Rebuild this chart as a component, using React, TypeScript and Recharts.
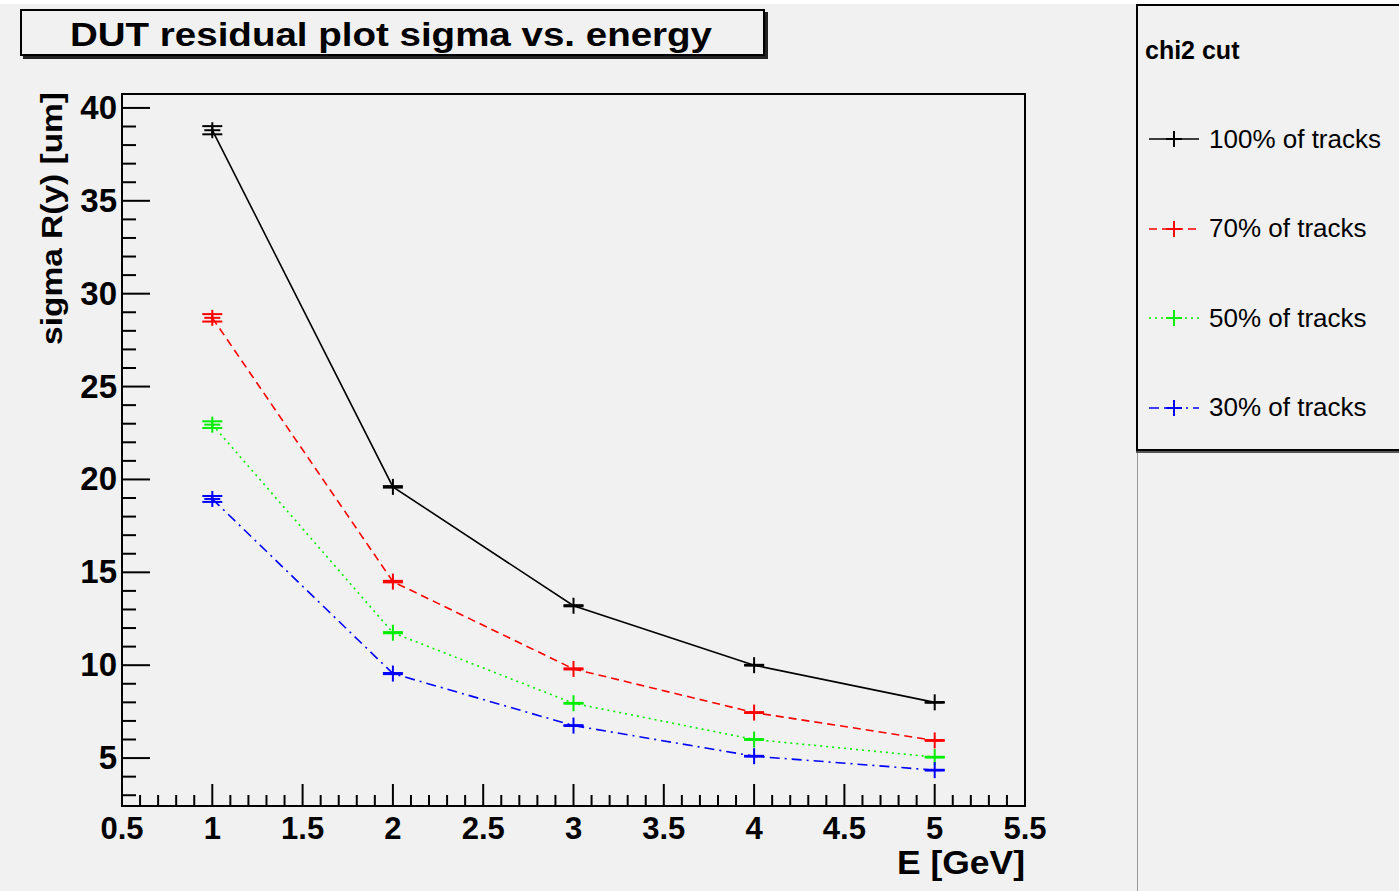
import React from "react";
import { LineChart, Line, XAxis, YAxis, ErrorBar, ReferenceArea } from "recharts";

// energy points [GeV]
const energies = [1, 2, 3, 4, 5];

// sigma of DUT residual [um] for each chi2 cut
const sigma100 = [38.8, 19.6, 13.2, 10.0, 8.0];
const sigma70 = [28.7, 14.5, 9.8, 7.45, 5.95];
const sigma50 = [22.95, 11.75, 7.95, 6.0, 5.05];
const sigma30 = [18.95, 9.55, 6.75, 5.1, 4.35];

// small errors seen as bars on the markers
const err100 = [0.22, 0.04, 0.03, 0.02, 0.02];
const err70 = [0.2, 0.04, 0.03, 0.02, 0.02];
const err50 = [0.18, 0.03, 0.02, 0.02, 0.02];
const err30 = [0.16, 0.03, 0.02, 0.02, 0.02];

const xMajorTicks = [0.5, 1, 1.5, 2, 2.5, 3, 3.5, 4, 4.5, 5, 5.5];
const yMajorTicks = [5, 10, 15, 20, 25, 30, 35, 40];

const xTicks: number[] = [];
for (let i = 5; i <= 55; i++) xTicks.push(i / 10);
const yTicks: number[] = [];
for (let i = 3; i <= 40; i++) yTicks.push(i);

const data = energies.map((e, i) => ({
  e,
  s100: sigma100[i],
  s70: sigma70[i],
  s50: sigma50[i],
  s30: sigma30[i],
  e100: err100[i],
  e70: err70[i],
  e50: err50[i],
  e30: err30[i],
}));

const series = [
  { key: "s100", err: "e100", name: "100% of tracks", color: "#000000", dash: undefined },
  { key: "s70", err: "e70", name: "70% of tracks", color: "#ff0000", dash: "8 5" },
  { key: "s50", err: "e50", name: "50% of tracks", color: "#00ee00", dash: "2 4" },
  { key: "s30", err: "e30", name: "30% of tracks", color: "#0000ff", dash: "10 5 2 5" },
];

const FONT = "'Liberation Sans', Arial, Helvetica, sans-serif";
const BG = "#f1f1f1";

const PlusDot = (color: string) => (props: any) => {
  const { cx, cy } = props;
  if (cx == null || cy == null) return null;
  return (
    <g>
      <line x1={cx - 8} y1={cy} x2={cx + 8} y2={cy} stroke={color} strokeWidth={2} />
      <line x1={cx} y1={cy - 8} x2={cx} y2={cy + 8} stroke={color} strokeWidth={2} />
    </g>
  );
};

const XTick = (props: any) => {
  const { x, y, payload } = props;
  const v = payload.value;
  const major = xMajorTicks.some((m) => Math.abs(m - v) < 1e-6);
  return (
    <g>
      <line x1={x} y1={y} x2={x} y2={y - (major ? 22 : 11)} stroke="#000" strokeWidth={2} />
      {major && (
        <text x={x} y={y + 33} textAnchor="middle" fontSize={31} fontWeight="bold" fontFamily={FONT} fill="#000">
          {v}
        </text>
      )}
    </g>
  );
};

const YTick = (props: any) => {
  const { x, y, payload } = props;
  const v = payload.value;
  const major = yMajorTicks.includes(v);
  return (
    <g>
      <line x1={x} y1={y} x2={x + (major ? 28 : 14)} y2={y} stroke="#000" strokeWidth={2} />
      {major && (
        <text x={x - 5} y={y + 11} textAnchor="end" fontSize={33} fontWeight="bold" fontFamily={FONT} fill="#000">
          {v}
        </text>
      )}
    </g>
  );
};

export default function App() {
  return (
    <div style={{ position: "absolute", left: 0, top: 0, width: 1399, height: 891, background: BG, overflow: "hidden", fontFamily: FONT }}>
      <div style={{ position: "absolute", left: 0, top: 0, width: 1399, height: 4, background: "#fff" }} />
      {/* title box */}
      <div
        style={{
          position: "absolute",
          left: 20,
          top: 9,
          width: 741,
          height: 43,
          border: "2px solid #000",
          boxShadow: "3px 3px 0 #222",
          background: BG,
        }}
      />
      <svg style={{ position: "absolute", left: 0, top: 0 }} width={780} height={60}>
        <text x={70} y={46} fontSize={33} fontWeight="bold" fontFamily={FONT} textLength={642} lengthAdjust="spacingAndGlyphs">
          DUT residual plot sigma vs. energy
        </text>
      </svg>

      <div style={{ position: "absolute", left: 0, top: 0 }}>
        <LineChart width={1399} height={891} data={data} margin={{ top: 94, right: 374, left: 0, bottom: 0 }}>
          <XAxis
            dataKey="e"
            type="number"
            domain={[0.5, 5.5]}
            ticks={xTicks}
            interval={0}
            tick={<XTick />}
            tickLine={false}
            tickSize={0}
            tickMargin={0}
            axisLine={false}
            height={85}
            allowDataOverflow
          />
          <YAxis
            type="number"
            domain={[2.42, 40.75]}
            ticks={yTicks}
            interval={0}
            tick={<YTick />}
            tickLine={false}
            tickSize={0}
            tickMargin={0}
            axisLine={false}
            width={122}
            allowDataOverflow
          />
          <ReferenceArea x1={0.5} x2={5.5} y1={2.42} y2={40.75} fill="none" stroke="#000" strokeWidth={2} />
          {series.map((s) => (
            <Line
              key={s.key}
              dataKey={s.key}
              name={s.name}
              stroke={s.color}
              strokeWidth={1.6}
              strokeDasharray={s.dash}
              dot={PlusDot(s.color)}
              activeDot={false}
              isAnimationActive={false}
              type="linear"
            >
              <ErrorBar dataKey={s.err} width={10} stroke={s.color} strokeWidth={2} direction="y" />
            </Line>
          ))}
        </LineChart>
      </div>

      <svg style={{ position: "absolute", left: 0, top: 0 }} width={1140} height={891}>
        <text
          transform="translate(62,92) rotate(-90)"
          textAnchor="end"
          fontSize={30}
          fontWeight="bold"
          fontFamily={FONT}
          textLength={253}
          lengthAdjust="spacingAndGlyphs"
        >
          sigma R(y) [um]
        </text>
        <text x={1025} y={874} textAnchor="end" fontSize={33} fontWeight="bold" fontFamily={FONT} textLength={128} lengthAdjust="spacingAndGlyphs">
          E [GeV]
        </text>
      </svg>

      {/* legend */}
      <div style={{ position: "absolute", left: 1137, top: 450, width: 1, height: 441, background: "#999" }} />
      <div
        style={{
          position: "absolute",
          left: 1136,
          top: 4,
          width: 280,
          height: 443,
          border: "2px solid #000",
          boxShadow: "0 2px 0 #555",
          background: BG,
        }}
      >
        <div style={{ position: "absolute", left: 7, top: 30, fontSize: 25, fontWeight: "bold" }}>chi2 cut</div>
        {series.map((s, i) => (
          <div key={s.key} style={{ position: "absolute", left: 8, top: 113 + i * 89.5, height: 40, display: "flex", alignItems: "center" }}>
            <svg width={58} height={20}>
              <line x1={3} y1={10} x2={53} y2={10} stroke={s.color} strokeWidth={1.6} strokeDasharray={s.dash ? s.dash : undefined} />
              <line x1={20} y1={10} x2={36} y2={10} stroke={s.color} strokeWidth={2} />
              <line x1={28} y1={2} x2={28} y2={18} stroke={s.color} strokeWidth={2} />
            </svg>
            <span style={{ marginLeft: 5, fontSize: 26, color: "#000" }}>{s.name}</span>
          </div>
        ))}
      </div>
    </div>
  );
}
